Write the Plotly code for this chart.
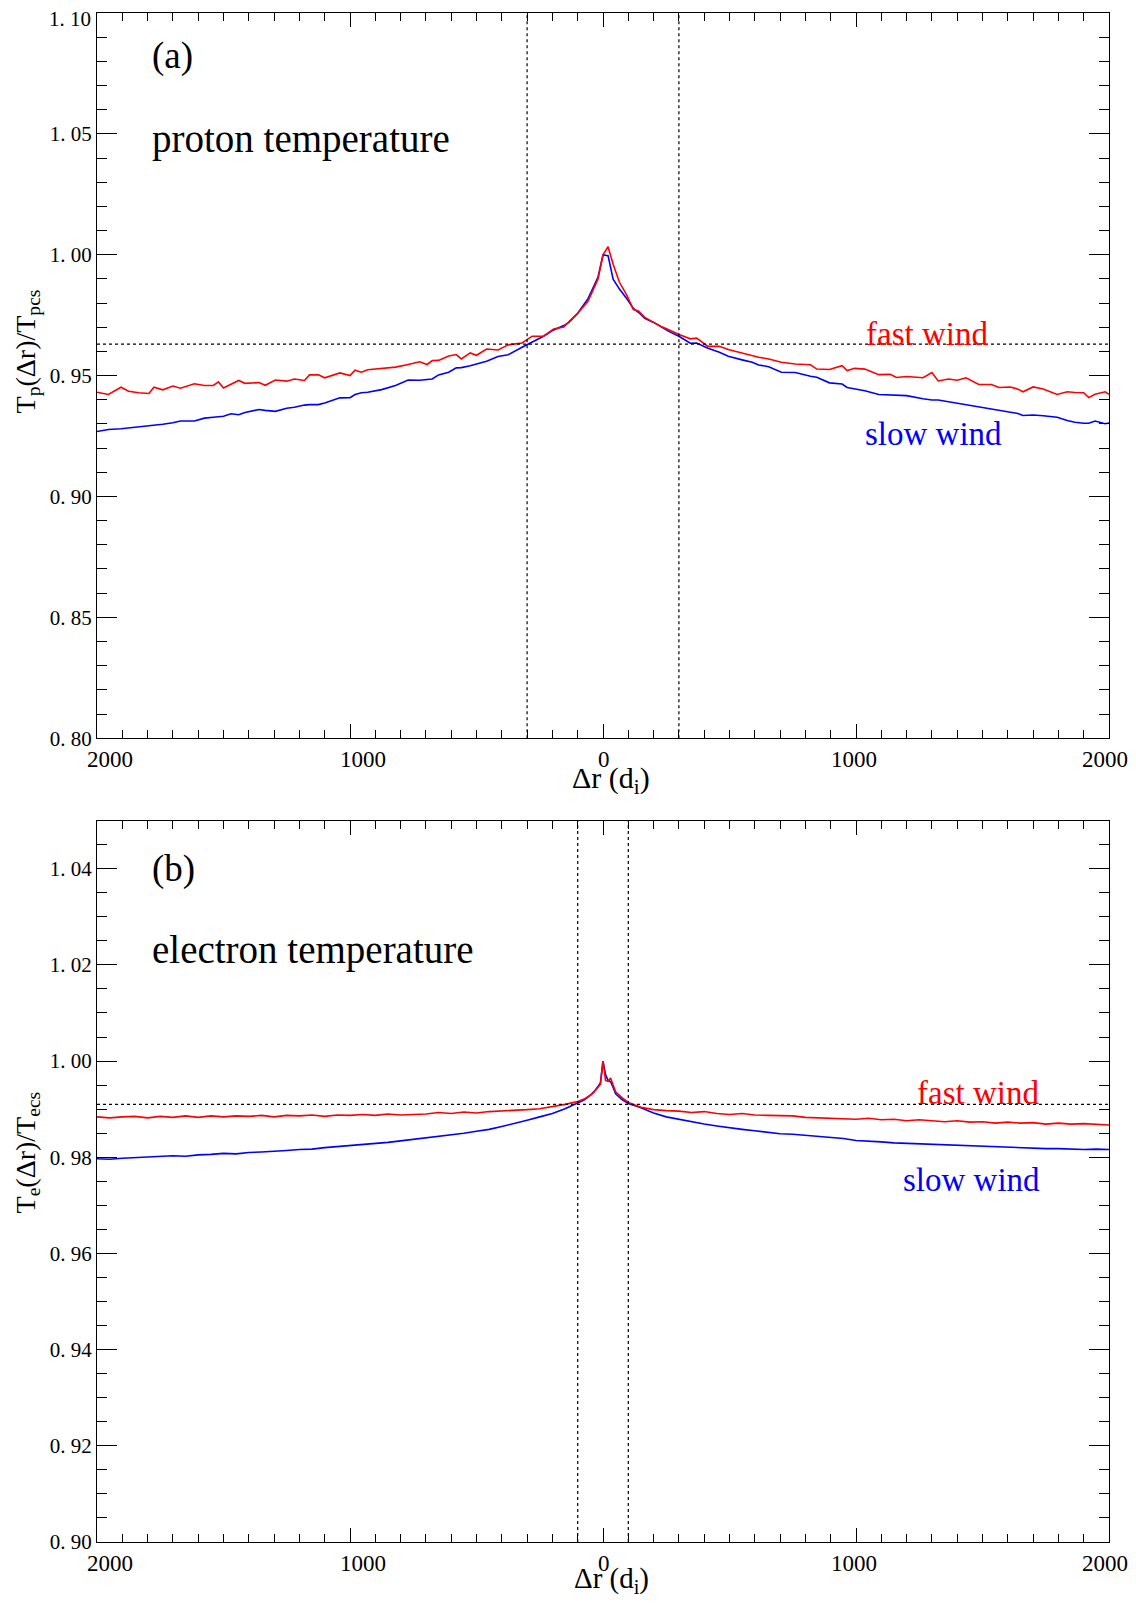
import plotly.graph_objects as go

# panel (a): proton temperature
x_a = [-2000, -1955, -1905, -1875, -1835, -1795, -1775, -1740, -1700, -1670,
       -1615, -1575, -1540, -1520, -1500, -1470, -1440, -1415, -1360, -1335,
       -1295, -1250, -1220, -1180, -1160, -1125, -1100, -1040, -1000, -980,
       -955, -930, -875, -820, -770, -725, -695, -675, -650, -610,
       -580, -560, -525, -500, -460, -415, -375, -320, -280, -235,
       -195, -155, -135, -100, -60, -20, 0, 20,
       40, 65, 95, 120, 140, 165, 200, 230, 260, 300,
       345, 370, 415, 460, 495, 550, 590, 615, 655, 705,
       760, 820, 845, 895, 945, 965, 995, 1035, 1090, 1135,
       1160, 1200, 1265, 1300, 1325, 1365, 1400, 1435, 1485, 1535,
       1565, 1610, 1640, 1660, 1700, 1740, 1795, 1835, 1865, 1900,
       1920, 1945, 1985, 2000]
fast_a = [0.9431, 0.9422, 0.9452, 0.9435, 0.9429, 0.9426, 0.9452, 0.9441, 0.9457, 0.9448,
          0.9466, 0.9459, 0.9459, 0.9474, 0.9449, 0.9464, 0.9480, 0.9468, 0.9471, 0.9460,
          0.9482, 0.9477, 0.9486, 0.9480, 0.9503, 0.9503, 0.9491, 0.9511, 0.9500, 0.9522,
          0.9514, 0.9524, 0.9530, 0.9535, 0.9546, 0.9557, 0.9546, 0.9562, 0.9563, 0.9581,
          0.9587, 0.9569, 0.9594, 0.9584, 0.9610, 0.9606, 0.9627, 0.9635, 0.9663, 0.9663,
          0.9693, 0.9701, 0.9723, 0.9758, 0.9806, 0.9899, 1.0000, 1.0033,
          0.9961, 0.9886, 0.9831, 0.9773, 0.9767, 0.9741, 0.9720, 0.9703, 0.9690, 0.9670,
          0.9652, 0.9655, 0.9621, 0.9621, 0.9608, 0.9592, 0.9583, 0.9576, 0.9569, 0.9555,
          0.9548, 0.9545, 0.9527, 0.9525, 0.9541, 0.9521, 0.9530, 0.9527, 0.9504, 0.9505,
          0.9492, 0.9496, 0.9491, 0.9513, 0.9478, 0.9486, 0.9481, 0.9491, 0.9463, 0.9463,
          0.9451, 0.9453, 0.9444, 0.9433, 0.9453, 0.9445, 0.9422, 0.9433, 0.9430, 0.9429,
          0.9409, 0.9423, 0.9433, 0.9422]
slow_a = [0.9269, 0.9277, 0.9280, 0.9283, 0.9287, 0.9294, 0.9295, 0.9299, 0.9305, 0.9312,
          0.9312, 0.9324, 0.9328, 0.9329, 0.9332, 0.9342, 0.9338, 0.9347, 0.9360, 0.9356,
          0.9352, 0.9365, 0.9369, 0.9378, 0.9380, 0.9380, 0.9387, 0.9408, 0.9409, 0.9422,
          0.9429, 0.9431, 0.9442, 0.9459, 0.9482, 0.9481, 0.9485, 0.9486, 0.9503, 0.9514,
          0.9532, 0.9533, 0.9541, 0.9547, 0.9559, 0.9579, 0.9586, 0.9617, 0.9638, 0.9663,
          0.9689, 0.9707, 0.9720, 0.9758, 0.9817, 0.9906, 0.9999, 0.9996,
          0.9899, 0.9858, 0.9817, 0.9778, 0.9762, 0.9737, 0.9720, 0.9700, 0.9683, 0.9663,
          0.9634, 0.9635, 0.9613, 0.9597, 0.9580, 0.9565, 0.9555, 0.9544, 0.9537, 0.9514,
          0.9513, 0.9497, 0.9493, 0.9470, 0.9465, 0.9451, 0.9445, 0.9437, 0.9422, 0.9421,
          0.9419, 0.9417, 0.9404, 0.9399, 0.9399, 0.9392, 0.9386, 0.9379, 0.9371, 0.9361,
          0.9357, 0.9349, 0.9343, 0.9335, 0.9337, 0.9334, 0.9328, 0.9314, 0.9307, 0.9303,
          0.9303, 0.9312, 0.9301, 0.9304]

# panel (b): electron temperature
x_b = (list(range(-2000, -99, 50))
       + [-75, -50, -40, -30, -20, -10, 0, 10, 20, 30, 40, 50, 75]
       + list(range(100, 2001, 50)))
fast_b = [0.9884, 0.9882, 0.9884, 0.9885, 0.9882, 0.9885, 0.9883, 0.9886, 0.9883, 0.9886,
          0.9884, 0.9886, 0.9885, 0.9887, 0.9884, 0.9887, 0.9886, 0.9888, 0.9885, 0.9888,
          0.9887, 0.9889, 0.9887, 0.9890, 0.9888, 0.9889, 0.9890, 0.9893, 0.9891, 0.9894,
          0.9892, 0.9895, 0.9896, 0.9898, 0.9899, 0.9901, 0.9905, 0.9910, 0.9916,
          0.9921, 0.9929, 0.9933, 0.9939, 0.9945, 0.9952, 1.0000, 0.9960, 0.9958, 0.9965,
          0.9950, 0.9936, 0.9924,
          0.9914, 0.9904, 0.9899, 0.9897, 0.9896, 0.9893, 0.9895, 0.9891, 0.9889, 0.9891,
          0.9888, 0.9887, 0.9886, 0.9886, 0.9883, 0.9882, 0.9882, 0.9880, 0.9879, 0.9881,
          0.9878, 0.9879, 0.9876, 0.9878, 0.9876, 0.9874, 0.9876, 0.9873, 0.9874, 0.9871,
          0.9873, 0.9871, 0.9872, 0.9869, 0.9871, 0.9869, 0.9870, 0.9868, 0.9867]
slow_b = [0.9797, 0.9796, 0.9798, 0.9799, 0.9800, 0.9801, 0.9803, 0.9802, 0.9805, 0.9806,
          0.9808, 0.9807, 0.9810, 0.9811, 0.9812, 0.9814, 0.9816, 0.9817, 0.9820, 0.9822,
          0.9824, 0.9826, 0.9828, 0.9831, 0.9834, 0.9837, 0.9841, 0.9844, 0.9847, 0.9850,
          0.9854, 0.9858, 0.9864, 0.9870, 0.9877, 0.9884, 0.9891, 0.9901, 0.9912,
          0.9919, 0.9929, 0.9934, 0.9940, 0.9947, 0.9955, 1.0000, 0.9972, 0.9960, 0.9957,
          0.9945, 0.9932, 0.9920,
          0.9912, 0.9903, 0.9892, 0.9884, 0.9879, 0.9873, 0.9869, 0.9865, 0.9861, 0.9858,
          0.9855, 0.9852, 0.9849, 0.9848, 0.9846, 0.9844, 0.9841, 0.9839, 0.9835, 0.9834,
          0.9832, 0.9830, 0.9829, 0.9828, 0.9826, 0.9825, 0.9824, 0.9823, 0.9822, 0.9821,
          0.9821, 0.9820, 0.9819, 0.9818, 0.9818, 0.9817, 0.9816, 0.9817, 0.9816]

# reference lines
vline_a = 300
hline_a = 0.963
vline_b = 100
hline_b = 0.991

xtick_vals = [-2000, -1000, 0, 1000, 2000]
xtick_text = ["2000", "1000", "0", "1000", "2000"]
ytick_a = [0.80, 0.85, 0.90, 0.95, 1.00, 1.05, 1.10]
ytick_b = [0.90, 0.92, 0.94, 0.96, 0.98, 1.00, 1.02, 1.04]

FONT = "Liberation Serif"
RED = "#ff0000"
BLUE = "#0000ff"
xlabel_shift = [13, 13, 1, -2, -4]   # IDL-style label offsets, pixels


def ylab(v):
    return f"{v:.2f}".replace(".", ". ")


fig = go.Figure()
for xr, yr, xs, slow, fast in [("x", "y", x_a, slow_a, fast_a), ("x2", "y2", x_b, slow_b, fast_b)]:
    fig.add_trace(go.Scatter(x=xs, y=slow, mode="lines", line=dict(color=BLUE, width=1.6),
                             xaxis=xr, yaxis=yr))
    fig.add_trace(go.Scatter(x=xs, y=fast, mode="lines", line=dict(color=RED, width=1.6),
                             xaxis=xr, yaxis=yr))


def xaxis_style(anchor):
    return dict(range=[-2000, 2000], anchor=anchor, automargin=False,
                showgrid=False, zeroline=False,
                showline=True, linecolor="black", linewidth=1, mirror="ticks",
                ticks="inside", ticklen=14, tickcolor="black",
                tickmode="array", tickvals=xtick_vals, showticklabels=False,
                minor=dict(ticks="inside", ticklen=8, dtick=100, tick0=0,
                           tickcolor="black", showgrid=False))


def yaxis_style(anchor, rng, vals, labels, minor_dt, domain):
    return dict(range=rng, anchor=anchor, domain=domain, automargin=False,
                showgrid=False, zeroline=False,
                showline=True, linecolor="black", linewidth=1, mirror="ticks",
                ticks="inside", ticklen=20, tickcolor="black",
                tickmode="array", tickvals=vals, ticktext=labels,
                ticklabeloverflow="allow",
                minor=dict(ticks="inside", ticklen=10, dtick=minor_dt, tick0=rng[0],
                           tickcolor="black", showgrid=False),
                tickfont=dict(family=FONT, size=21, color="black"))


# the top label of panel (a) sits just under the frame corner, drawn separately below
labels_a = [ylab(v) for v in ytick_a[:-1]] + [""]
labels_b = [ylab(v) for v in ytick_b]

# page body has an 8px margin; keep the whole page inside the window (no scrollbars)
fig.update_layout(
    width=1120, height=1590,
    margin=dict(l=89, r=19, t=5, b=56),
    plot_bgcolor="white", paper_bgcolor="white",
    showlegend=False,
    font=dict(family=FONT, color="black"),
    xaxis=xaxis_style("y"),
    yaxis=yaxis_style("x", [0.80, 1.10], ytick_a, labels_a, 0.01, [0.5257, 1.0]),
    xaxis2=xaxis_style("y2"),
    yaxis2=yaxis_style("x2", [0.90, 1.05], ytick_b, labels_b, 0.005, [0.0, 0.4718]),
)
fig.add_annotation(xref="x domain", yref="y", x=0, y=ytick_a[-1], xshift=-4, yshift=-6,
                   text=ylab(ytick_a[-1]), showarrow=False, xanchor="right", yanchor="middle",
                   font=dict(family=FONT, size=21, color="black"))

dot = dict(color="black", width=1.2, dash="dot")
for xr, yr, v, h in [("x", "y", vline_a, hline_a), ("x2", "y2", vline_b, hline_b)]:
    for sx in (-v, v):
        fig.add_shape(type="line", xref=xr, yref=yr + " domain", x0=sx, x1=sx, y0=0, y1=1,
                      line=dot)
    fig.add_shape(type="line", xref=xr + " domain", yref=yr, x0=0, x1=1, y0=h, y1=h,
                  line=dot)

# x tick labels (absolute distance on both sides of the current sheet)
for xr, yr in [("x", "y"), ("x2", "y2")]:
    for v, t, s in zip(xtick_vals, xtick_text, xlabel_shift):
        fig.add_annotation(xref=xr, yref=yr + " domain", x=v, y=0, xshift=s, yshift=-21,
                           text=t, showarrow=False, xanchor="center", yanchor="middle",
                           font=dict(family=FONT, size=23, color="black"))

notes = [
    ("x", "y", -1790, 1.0821, "(a)", "black", 37, "left"),
    ("x", "y", -1790, 1.048, "proton temperature", "black", 39, "left"),
    ("x", "y", 1281, 0.9672, "fast wind", RED, 33, "center"),
    ("x", "y", 1306, 0.9260, "slow wind", BLUE, 33, "center"),
    ("x2", "y2", -1790, 1.0399, "(b)", "black", 37, "left"),
    ("x2", "y2", -1790, 1.0231, "electron temperature", "black", 39, "left"),
    ("x2", "y2", 1482, 0.9933, "fast wind", RED, 33, "center"),
    ("x2", "y2", 1457, 0.9753, "slow wind", BLUE, 33, "center"),
]
for xr, yr, x, y, txt, col, size, anc in notes:
    fig.add_annotation(xref=xr, yref=yr, x=x, y=y, text=txt, showarrow=False,
                       xanchor=anc, yanchor="middle",
                       font=dict(family=FONT, size=size, color=col))

# axis titles
for xr, yr, sh, fs in [("x", "y", -42, 30), ("x2", "y2", -38, 29)]:
    fig.add_annotation(xref=xr, yref=yr + " domain", x=0, y=0, yshift=sh, xshift=8,
                       text="Δr (d<sub>i</sub>)", showarrow=False,
                       xanchor="center", yanchor="middle",
                       font=dict(family=FONT, size=fs, color="black"))
fig.add_annotation(xref="x domain", yref="y", x=0, y=0.960, xshift=-70,
                   text="T<sub>p</sub>(Δr)/T<sub>pcs</sub>", textangle=-90, showarrow=False,
                   xanchor="center", yanchor="middle",
                   font=dict(family=FONT, size=28, color="black"))
fig.add_annotation(xref="x2 domain", yref="y2", x=0, y=0.981, xshift=-70,
                   text="T<sub>e</sub>(Δr)/T<sub>ecs</sub>", textangle=-90, showarrow=False,
                   xanchor="center", yanchor="middle",
                   font=dict(family=FONT, size=28, color="black"))

fig.write_html("out.html")
